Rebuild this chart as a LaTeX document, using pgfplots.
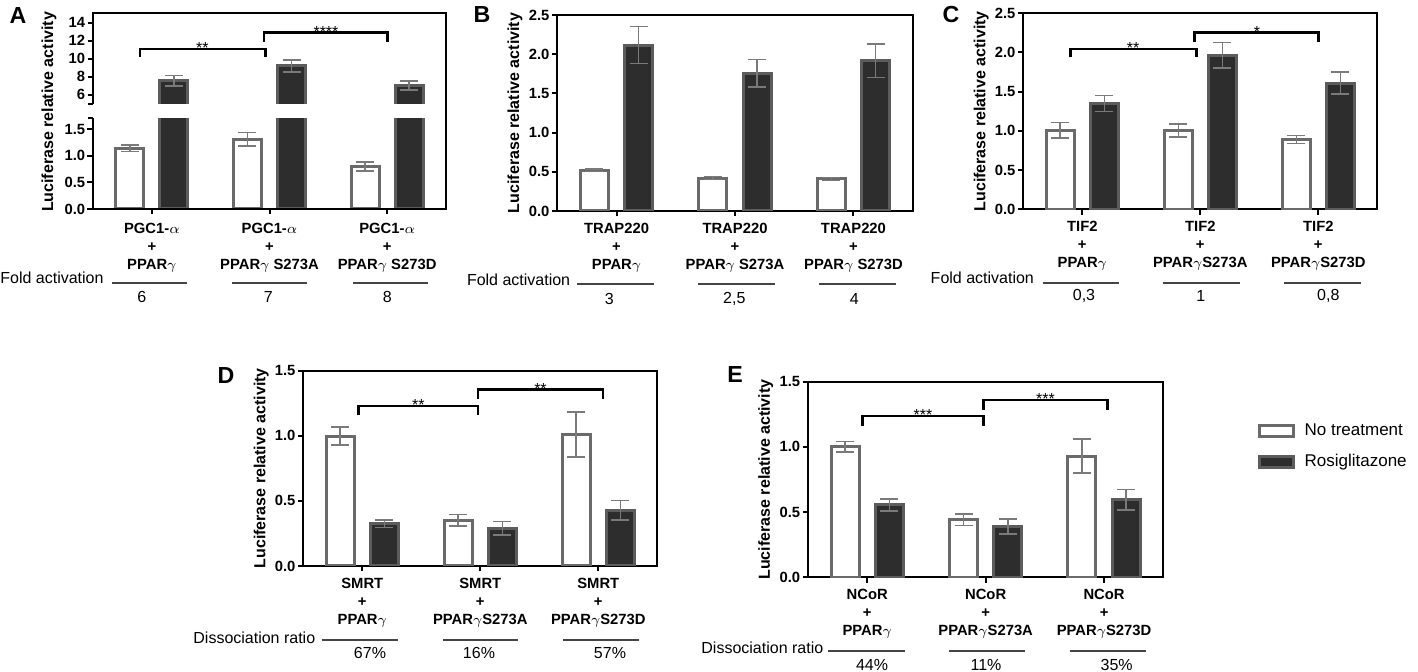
\documentclass[border=0pt]{standalone}
\usepackage{pgfplots}
\pgfplotsset{compat=1.18}
\usepackage{fontspec}
\setmainfont{Liberation Sans}
\definecolor{wbord}{HTML}{6A6A6A}
\definecolor{dfill}{HTML}{2D2D2D}
\definecolor{dbord}{HTML}{5C5C5C}
\definecolor{errc}{HTML}{7A7A7A}
\definecolor{linec}{HTML}{444444}
\newcommand{\tickfont}{\bfseries\fontsize{7.4pt}{8.3pt}\selectfont}
\newcommand{\lblfont}{\fontsize{8pt}{9.6pt}\selectfont}
\newcommand{\xl}[2]{\begin{tabular}{@{}c@{}}#1\\[0.75pt]+\\[0.75pt]#2\end{tabular}}
\tikzset{brk/.style={line width=1.4pt, black}}
\pgfplotsset{
  panel/.style={
    scale only axis, height=98pt,
    xmin=-0.5, xmax=2.5, ymin=0,
    axis line style={line width=1pt, black},
    tick style={line width=1pt, black},
    tick align=outside, major tick length=2.75pt,
    xtick={0,1,2}, xtick pos=left, ytick pos=left,
    xticklabel style={font=\tickfont, inner sep=0pt, yshift=-2.3pt},
    yticklabel style={font=\tickfont, inner sep=1pt},
    /pgf/number format/assume math mode=true,
    /pgf/number format/fixed, /pgf/number format/fixed zerofill, /pgf/number format/precision=1,
    ylabel={Luciferase relative activity},
    every axis y label/.style={at={(axis description cs:-0.119,0.5)}, rotate=90, anchor=center, font=\bfseries\fontsize{8pt}{9pt}\selectfont},
  },
  wbar/.style={ybar, bar width=14pt, bar shift=0pt, fill=white, draw=wbord, line width=1.5pt,
    error bars/.cd, y dir=both, y explicit,
    error bar style={errc, line width=0.75pt},
    error mark options={rotate=90, errc, mark size=4.5pt, line width=0.75pt}},
  dbar/.style={ybar, bar width=14pt, bar shift=0pt, fill=dfill, draw=dbord, line width=1.5pt,
    error bars/.cd, y dir=both, y explicit,
    error bar style={errc, line width=0.75pt},
    error mark options={rotate=90, errc, mark size=4.5pt, line width=0.75pt}},
}
% x1 x2 legy topy mid stars
\newcommand{\bracket}[6]{%
  \draw[brk] (axis cs:#1,#3) -- (axis cs:#1,#4) -- (axis cs:#2,#4) -- (axis cs:#2,#3);
  \node[anchor=base, inner sep=0pt, font=\fontsize{8pt}{8pt}\selectfont, yshift=-2.5pt] at (axis cs:#5,#4) {#6};
}
\begin{document}
\begin{tikzpicture}
\useasboundingbox (0,0) rectangle (709pt,-336pt);

% ---------------- Panel A (upper part) ----------------
\begin{axis}[panel, at={(46.5pt,-59.15pt)}, anchor=south west,
  width=176.5pt, height=52.65pt, ymin=3.378, ymax=15.08,
  ytick={6,8,10,12,14}, xtick=\empty,
  /pgf/number format/precision=0, /pgf/number format/fixed zerofill=false,
  axis line style={draw=none}, ylabel={}]
\addplot[dbar] coordinates {(0.187,7.56) +- (0,0.59) (1.187,9.2) +- (0,0.65) (2.187,7.0) +- (0,0.5)};
\bracket{-0.1}{0.965}{10.15}{11.08}{0.43}{**}
\bracket{0.953}{2.0}{11.9}{12.93}{1.48}{****}
\end{axis}
% ---------------- Panel A (lower part) ----------------
\begin{axis}[panel, at={(46.5pt,-104.5pt)}, anchor=south west,
  width=176.5pt, height=45.35pt, ymax=1.707,
  ytick={0,0.5,1,1.5},
  axis line style={draw=none},
  xticklabel style={yshift=-1pt},
  every axis y label/.append style={at={(axis description cs:-0.125,1.07)}},
  xticklabels={{\xl{PGC1-$\alpha$}{PPAR$\gamma$}},{\xl{PGC1-$\alpha$}{PPAR$\gamma$ S273A}},{\xl{PGC1-$\alpha$}{PPAR$\gamma$ S273D}}}]
\addplot[wbar] coordinates {(-0.187,1.14) +- (0,0.06) (0.813,1.315) +- (0,0.125) (1.813,0.80) +- (0,0.083)};
\addplot[dbar] coordinates {(0.187,7.56) +- (0,0.59) (1.187,9.2) +- (0,0.65) (2.187,7.0) +- (0,0.5)};
\end{axis}

% ---------------- Panel B ----------------
\begin{axis}[panel, at={(278.65pt,-105.5pt)}, anchor=south west,
  width=177.7pt, ymax=2.5, ytick={0,0.5,1,1.5,2,2.5},
  xticklabels={{\xl{TRAP220}{PPAR$\gamma$}},{\xl{TRAP220}{PPAR$\gamma$ S273A}},{\xl{TRAP220}{PPAR$\gamma$ S273D}}}]
\addplot[wbar] coordinates {(-0.187,0.52) +- (0,0.015) (0.813,0.42) +- (0,0.02) (1.813,0.41) +- (0,0.02)};
\addplot[dbar] coordinates {(0.187,2.115) +- (0,0.235) (1.187,1.755) +- (0,0.175) (2.187,1.915) +- (0,0.215)};
\end{axis}

% ---------------- Panel C ----------------
\begin{axis}[panel, at={(511.65pt,-104.65pt)}, anchor=south west,
  width=177pt, ymax=2.5, ytick={0,0.5,1,1.5,2,2.5},
  xticklabels={{\xl{TIF2}{PPAR$\gamma$}},{\xl{TIF2}{PPAR$\gamma$S273A}},{\xl{TIF2}{PPAR$\gamma$S273D}}}]
\addplot[wbar] coordinates {(-0.187,1.01) +- (0,0.10) (0.813,1.005) +- (0,0.085) (1.813,0.89) +- (0,0.05)};
\addplot[dbar] coordinates {(0.187,1.35) +- (0,0.10) (1.187,1.965) +- (0,0.165) (2.187,1.61) +- (0,0.14)};
\bracket{-0.1}{0.965}{1.94}{2.045}{0.43}{**}
\bracket{0.953}{2.0}{2.14}{2.26}{1.48}{*}
\end{axis}

% ---------------- Panel D ----------------
\begin{axis}[panel, at={(151.65pt,-283pt)}, anchor=south west,
  width=177pt, height=97.65pt, ymax=1.5, ytick={0,0.5,1,1.5},
  xticklabels={{\xl{SMRT}{PPAR$\gamma$}},{\xl{SMRT}{PPAR$\gamma$S273A}},{\xl{SMRT}{PPAR$\gamma$S273D}}}]
\addplot[wbar] coordinates {(-0.187,0.998) +- (0,0.068) (0.813,0.352) +- (0,0.045) (1.813,1.01) +- (0,0.172)};
\addplot[dbar] coordinates {(0.187,0.324) +- (0,0.03) (1.187,0.29) +- (0,0.05) (2.187,0.427) +- (0,0.075)};
\bracket{-0.03}{0.98}{1.16}{1.229}{0.475}{**}
\bracket{0.98}{2.04}{1.283}{1.357}{1.51}{**}
\end{axis}

% ---------------- Panel E ----------------
\begin{axis}[panel, at={(404pt,-288.65pt)}, anchor=south west,
  width=177.65pt, height=97.8pt, ymax=1.5, ytick={0,0.5,1,1.5},
  xticklabels={{\xl{NCoR}{PPAR$\gamma$}},{\xl{NCoR}{PPAR$\gamma$S273A}},{\xl{NCoR}{PPAR$\gamma$S273D}}},
  legend style={at={(axis description cs:1.264,0.809)}, anchor=north west, draw=none, fill=none,
    font=\fontsize{8.5pt}{10pt}\selectfont, inner sep=0pt, row sep=4pt, column sep=3pt},
  legend cell align=left]
\addlegendimage{area legend, fill=white, draw=wbord, line width=1.5pt}
\addlegendentry{No treatment}
\addlegendimage{area legend, fill=dfill, draw=dbord, line width=1.5pt}
\addlegendentry{Rosiglitazone}
\addplot[forget plot, wbar] coordinates {(-0.187,1.0) +- (0,0.04) (0.813,0.44) +- (0,0.044) (1.813,0.93) +- (0,0.13)};
\addplot[forget plot, dbar] coordinates {(0.187,0.555) +- (0,0.045) (1.187,0.39) +- (0,0.057) (2.187,0.595) +- (0,0.08)};
\bracket{-0.04}{0.98}{1.16}{1.237}{0.47}{***}
\bracket{0.98}{2.03}{1.283}{1.36}{1.505}{***}
\end{axis}

% ---------------- annotations in pixel coordinates ----------------
\begin{scope}[x=0.5pt, y=-0.5pt]
  % gap and frame of panel A with axis break
  \fill[white] (85,104) rectangle (450,118.3);
  \draw[line width=1pt, black] (93,104) -- (93,13) -- (446,13) -- (446,209) -- (93,209) -- (93,118.3);
  \draw[line width=1pt, black] (88,104) -- (93,104) (88,118.3) -- (93,118.3);
  % panel letters
  \foreach \l/\x/\y in {A/18/15.5, B/482/15, C/951/15, D/226/375.5, E/735/374.7}
    \node[font=\bfseries\fontsize{11.6pt}{12pt}\selectfont, inner sep=0pt] at (\x,\y) {\l};
  % fold activation rows
  \node[anchor=west, inner sep=0pt, font=\lblfont] at (0,278) {Fold activation};
  \node[anchor=west, inner sep=0pt, font=\lblfont] at (466.6,279.3) {Fold activation};
  \node[anchor=east, inner sep=0pt, font=\lblfont] at (1034.3,277.7) {Fold activation};
  \draw[linec, line width=1pt] (112,283) -- (187,283) (232,283) -- (307,283) (353,283) -- (428,283);
  \draw[linec, line width=1pt] (577.3,284.3) -- (654,284.3) (698.3,284.3) -- (775,284.3) (819,284.3) -- (895.7,284.3);
  \draw[linec, line width=1pt] (1042.7,282.7) -- (1119.3,282.7) (1163.3,282.7) -- (1240,282.7) (1284.3,282.7) -- (1360.7,282.7);
  \foreach \t/\x/\y in {6/141.7/297, 7/268.3/297, 8/387.3/297, 3/609.3/299, {2,5}/734.3/299, 4/854.3/299, {0,3}/1084/296, 1/1200.7/296, {0,8}/1328.3/296}
    \node[font=\lblfont, inner sep=0pt] at (\x,\y) {\t};
  % dissociation ratio rows
  \node[anchor=west, inner sep=0pt, font=\lblfont] at (193,638) {Dissociation ratio};
  \node[anchor=west, inner sep=0pt, font=\lblfont] at (701,648) {Dissociation ratio};
  \draw[linec, line width=1pt] (321.7,640) -- (398.3,640) (443.3,640) -- (518.3,640) (563.3,640) -- (639.3,640);
  \draw[linec, line width=1pt] (828,650.7) -- (904.5,650.7) (949,650.7) -- (1025,650.7) (1069.6,650.7) -- (1146,650.7);
  \foreach \t/\x/\y in {67/370/653, 16/479/653, 57/610/653, 44/872/665, 11/986/665, 35/1116.7/665}
    \node[font=\lblfont, inner sep=0pt] at (\x,\y) {\t\%};
\end{scope}
\end{tikzpicture}
\end{document}
